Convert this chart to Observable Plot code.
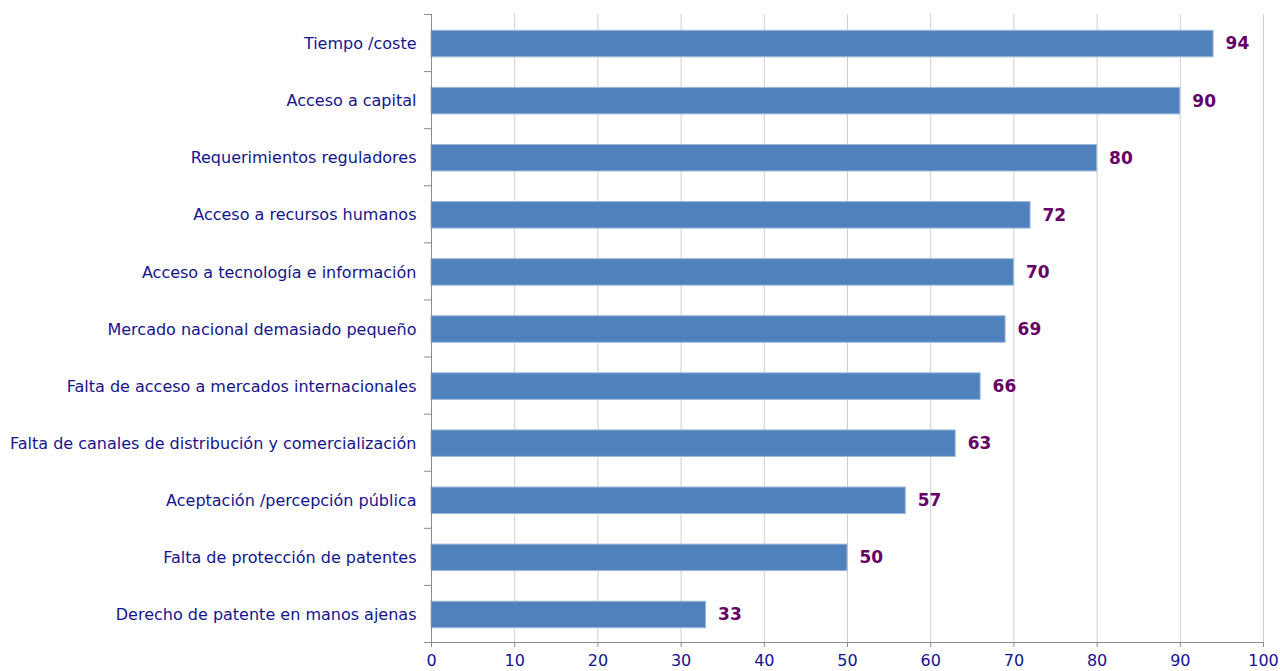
<!DOCTYPE html>
<html>
<head>
<meta charset="utf-8">
<script src="https://cdn.jsdelivr.net/npm/d3@7"></script>
<script src="https://cdn.jsdelivr.net/npm/@observablehq/plot@0.6"></script>
<style>
  html, body { margin: 0; padding: 0; background: #fff; }
  #chart svg { display: block; }
</style>
</head>
<body>
<div id="chart"></div>
<script>
const categories = [
  "Tiempo /coste",
  "Acceso a capital",
  "Requerimientos reguladores",
  "Acceso a recursos humanos",
  "Acceso a tecnología e información",
  "Mercado nacional demasiado pequeño",
  "Falta de acceso a mercados internacionales",
  "Falta de canales de distribución y comercialización",
  "Aceptación /percepción pública",
  "Falta de protección de patentes",
  "Derecho de patente en manos ajenas"
];
const values = [94, 90, 80, 72, 70, 69, 66, 63, 57, 50, 33];
const xTicks = [0, 10, 20, 30, 40, 50, 60, 70, 80, 90, 100];

const data = categories.map((c, i) => ({cat: c, i, value: values[i]}));
const idx = categories.map((c, i) => i);
const bounds = categories.map((c, i) => i - 0.5).concat([categories.length - 0.5]);
const halfBar = 0.232;

const navy = "#14148c";
const axisGray = "#8c8c8c";
const font = "DejaVu Sans, Verdana, sans-serif";

const chart = Plot.plot({
  width: 1280,
  height: 671,
  marginLeft: 431,
  marginRight: 17,
  marginTop: 14,
  marginBottom: 29,
  style: {fontFamily: font, background: "#fff"},
  x: {domain: [0, 100], label: null},
  y: {domain: [-0.5, categories.length - 0.5], reverse: true, label: null},
  marks: [
    Plot.ruleX(xTicks.slice(1), {stroke: "#cfcfcf", strokeWidth: 1}),
    Plot.rectX(data, {
      x1: 0,
      x2: "value",
      y1: d => d.i - halfBar,
      y2: d => d.i + halfBar,
      fill: "#4f81bd",
      stroke: "#9db7da",
      strokeWidth: 1,
      dy: 1
    }),
    Plot.text(data, {
      x: "value",
      y: "i",
      text: d => String(d.value),
      dx: 12,
      dy: 1,
      textAnchor: "start",
      fill: "#660066",
      fontWeight: "bold",
      fontSize: 17
    }),
    Plot.axisY(bounds, {
      tickSize: 7,
      stroke: axisGray,
      tickFormat: () => "",
      label: null
    }),
    Plot.axisY(idx, {
      tickSize: 0,
      tickPadding: 15,
      tickFormat: i => categories[i],
      fill: navy,
      fontSize: 16,
      dy: 1,
      label: null
    }),
    Plot.ruleX([0], {stroke: axisGray}),
    Plot.ruleY([categories.length - 0.5], {stroke: axisGray}),
    Plot.axisX(xTicks, {
      tickSize: 5,
      tickPadding: 7,
      stroke: axisGray,
      fill: navy,
      fontSize: 16,
      label: null
    })
  ]
});

document.getElementById("chart").appendChild(chart);
</script>
</body>
</html>
